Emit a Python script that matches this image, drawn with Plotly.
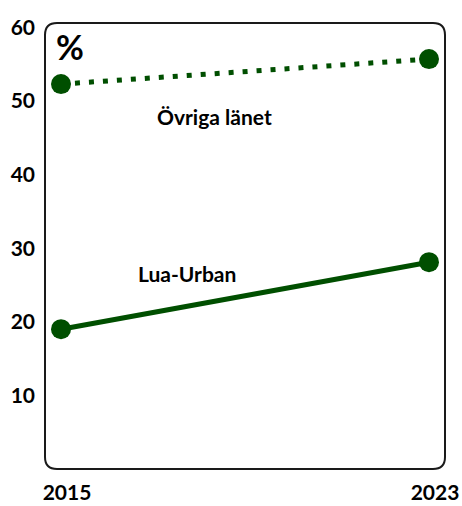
import plotly.graph_objects as go

# Data
years = [2015, 2023]
ovriga_lanet = [52.3, 55.7]
lua_urban = [19.0, 28.1]
y_ticks = [10, 20, 30, 40, 50, 60]

green = "#004f00"
font_family = "Lato, 'Open Sans', sans-serif"

fig = go.Figure()

fig.add_trace(go.Scatter(
    x=years, y=ovriga_lanet, mode="lines+markers", name="Övriga länet",
    line=dict(color=green, width=5, dash="5px,9px"),
    marker=dict(color=green, size=20),
))
fig.add_trace(go.Scatter(
    x=years, y=lua_urban, mode="lines+markers", name="Lua-Urban",
    line=dict(color=green, width=5),
    marker=dict(color=green, size=20),
))

# Rounded frame around the plotting area (paper coordinates)
rx, ry = 12 / 400, 12 / 446
path = (
    f"M {rx},0 L {1 - rx},0 Q 1,0 1,{ry} L 1,{1 - ry} Q 1,1 {1 - rx},1 "
    f"L {rx},1 Q 0,1 0,{1 - ry} L 0,{ry} Q 0,0 {rx},0 Z"
)
fig.add_shape(type="path", path=path, xref="paper", yref="paper",
              line=dict(color="#1a1a1a", width=2), fillcolor="rgba(0,0,0,0)",
              layer="below")

fig.add_annotation(x=0.0625, y=0.947, xref="paper", yref="paper", text="<b>%</b>",
                   xanchor="center", yanchor="middle", showarrow=False,
                   font=dict(size=34, color="black", family=font_family))
fig.add_annotation(x=2018.34, y=47.9, text="<b>Övriga länet</b>", showarrow=False,
                   xanchor="center", yanchor="middle",
                   font=dict(size=21, color="black", family=font_family))
fig.add_annotation(x=2017.74, y=26.5, text="<b>Lua-Urban</b>", showarrow=False,
                   xanchor="center", yanchor="middle",
                   font=dict(size=21, color="black", family=font_family))

fig.update_layout(
    width=462, height=506,
    margin=dict(l=45, r=17, t=23, b=37),
    paper_bgcolor="white", plot_bgcolor="white",
    showlegend=False,
    xaxis=dict(
        range=[2014.652, 2023.348], tickvals=years, ticktext=[f"<b>{y}</b>" for y in years],
        showgrid=False, zeroline=False, showline=False, ticks="",
        tickfont=dict(size=21, color="black", family=font_family),
        ticklabelshift=6, ticklabelstandoff=9, automargin=False,
    ),
    yaxis=dict(
        range=[0, 60.6], tickvals=y_ticks, ticktext=[f"<b>{v}</b>" for v in y_ticks],
        showgrid=False, zeroline=False, showline=False, ticks="",
        tickfont=dict(size=21, color="black", family=font_family),
        ticklabelstandoff=9, automargin=False,
    ),
)

fig.write_html("out.html")
